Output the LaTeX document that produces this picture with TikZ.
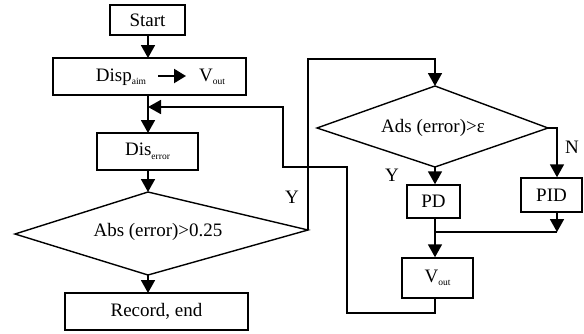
\documentclass[tikz,border=0pt]{standalone}
\usepackage{fontspec}
\setmainfont{Liberation Serif}
\usetikzlibrary{arrows.meta}
\newcommand{\subtxt}[1]{\raisebox{-3.5pt}{\fontsize{9.5}{10}\selectfont #1}}
\begin{document}
\begin{tikzpicture}[x=1pt,y=-1pt,
  box/.style={draw,line width=1.5pt,inner sep=0pt,font=\fontsize{19}{21}\selectfont},
  lbl/.style={inner sep=0pt,font=\fontsize{19}{21}\selectfont},
  conn/.style={line width=1.8pt},
  arr/.style={line width=1.8pt,-{Triangle[length=13pt,width=14pt]}},
  dia/.style={line width=1.4pt,line join=miter}]
\useasboundingbox (0,0) rectangle (584,333);
% boxes
\node[box,minimum width=75pt,minimum height=30pt] (start) at (147.5,20) {Start};
\node[box,minimum width=193pt,minimum height=37pt] (disp) at (149.5,76.5) {};
\node[lbl] (dispaim) at (121,77) {Disp\subtxt{aim}};
\node[lbl] (voutA) at (212,77) {V\subtxt{out}};
\draw[line width=2.2pt,-{Triangle[length=12pt,width=14pt]}] (158,76) -- (186,76);
\node[box,minimum width=101pt,minimum height=37pt] (diserr) at (147.5,151.5) {Dis\subtxt{error}};
\node[box,minimum width=183pt,minimum height=37pt] (record) at (156.5,311.5) {Record, end};
\node[box,minimum width=53pt,minimum height=33pt] (pd) at (433.5,201.5) {PD};
\node[box,minimum width=61pt,minimum height=34pt] (pid) at (551.5,195) {PID};
\node[box,minimum width=71pt,minimum height=40pt] (vout) at (437.5,278) {V\subtxt{out}};
% diamond 1
\coordinate (d1n) at (148,192);
\coordinate (d1e) at (308,230);
\coordinate (d1s) at (148,275);
\coordinate (d1w) at (15,234);
\draw[dia] (d1n) -- (d1e) -- (d1s) -- (d1w) -- cycle;
\node[lbl] (d1t) at (158,232) {Abs (error)>0.25};
% diamond 2
\coordinate (d2n) at (435,86);
\coordinate (d2e) at (548,128);
\coordinate (d2s) at (435,167);
\coordinate (d2w) at (317,128);
\draw[dia] (d2n) -- (d2e) -- (d2s) -- (d2w) -- cycle;
\node[lbl] (d2t) at (433,128) {Ads (error)>ε};
% main flow
\draw[arr] (148,35) -- (148,58);
\draw[arr] (148,95) -- (148,133);
\draw[arr] (148,170) -- (d1n);
\draw[arr] (d1s) -- (148,293);
% Y branch
\coordinate (y1) at (308,59);
\coordinate (y2) at (435,59);
\draw[arr] (d1e) -- (y1) -- (y2) -- (d2n);
\node[lbl] (ylab1) at (292,197) {Y};
% decision 2
\draw[arr] (d2s) -- (pd.north -| d2s);
\node[lbl] (ylab2) at (392,175) {Y};
\coordinate (n1) at (557,128);
\draw[arr] (d2e) -- (n1) -- (n1 |- pid.north);
\node[lbl] (nlab) at (572,147) {N};
\coordinate (m1) at (557,232);
\coordinate (m2) at (435,232);
\draw[arr] (pid.south -| n1) -- (m1);
\draw[conn] (m1) -- (m2);
\draw[arr] (pd.south -| d2s) -- (vout.north -| d2s);
% feedback
\coordinate (f1) at (435,313);
\coordinate (f2) at (347,313);
\coordinate (f3) at (347,167);
\coordinate (f4) at (283,167);
\coordinate (f5) at (283,107);
\coordinate (f6) at (148,107);
\draw[arr] (vout.south -| d2s) -- (f1) -- (f2) -- (f3) -- (f4) -- (f5) -- (f6);
\end{tikzpicture}
\end{document}
